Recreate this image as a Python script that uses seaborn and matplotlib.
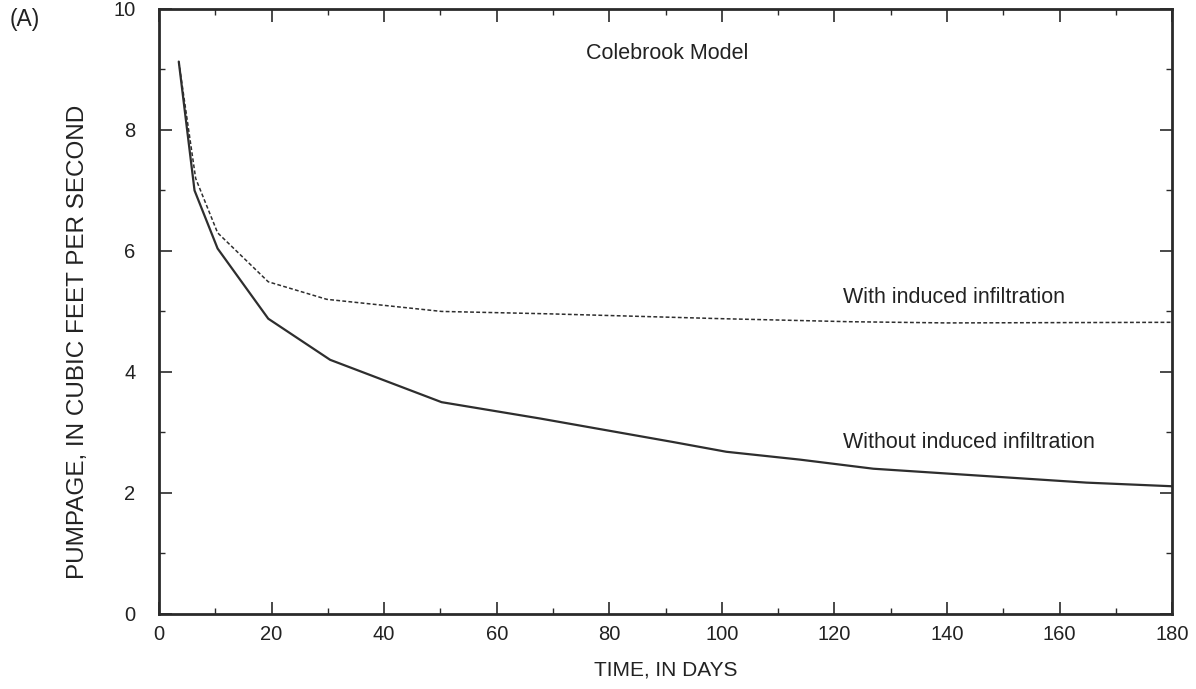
import matplotlib
matplotlib.use("Agg")
import matplotlib.pyplot as plt
import seaborn as sns
import pandas as pd
from matplotlib.ticker import MultipleLocator

# Data
days_without = [3.5, 6.3, 10.4, 19.4, 30.4, 50.2, 67.7, 91.4, 100.8, 113.9, 126.9, 141.7, 164.8, 180]
pump_without = [9.13, 7.0, 6.04, 4.88, 4.2, 3.5, 3.23, 2.84, 2.68, 2.55, 2.40, 2.31, 2.17, 2.11]
days_with = [3.5, 6.5, 10.4, 19.4, 29.8, 50.2, 69.4, 100.0, 122.7, 140.0, 180]
pump_with = [9.13, 7.2, 6.3, 5.49, 5.2, 5.0, 4.96, 4.88, 4.83, 4.81, 4.82]

x_ticks = [0, 20, 40, 60, 80, 100, 120, 140, 160, 180]
y_ticks = [0, 2, 4, 6, 8, 10]

sns.set_style("ticks")
plt.rcParams['font.family'] = ['Liberation Sans', 'DejaVu Sans']

fig = plt.figure(figsize=(11.96, 6.89), dpi=100)
ax = fig.add_axes([0.133, 0.109, 0.847, 0.878])

df_wo = pd.DataFrame({"day": days_without, "q": pump_without})
df_w = pd.DataFrame({"day": days_with, "q": pump_with})
line_col = "#2e2e2e"
sns.lineplot(data=df_wo, x="day", y="q", ax=ax, color=line_col, linewidth=1.6)
sns.lineplot(data=df_w, x="day", y="q", ax=ax, color=line_col, linewidth=1.1,
             linestyle=(0, (2.5, 1.5)))

ax.set_xlim(0, 180)
ax.set_ylim(0, 10)
ax.set_xticks(x_ticks)
ax.set_yticks(y_ticks)
ax.xaxis.set_minor_locator(MultipleLocator(10))
ax.yaxis.set_minor_locator(MultipleLocator(1))
ax.tick_params(which='both', direction='in', top=True, right=True, colors='#2a2a2a',
               labelsize=14.5, labelcolor='#222222')
ax.tick_params(which='major', length=9, width=1.2)
ax.tick_params(axis='x', which='major', pad=8)
ax.tick_params(axis='y', which='major', pad=17)
ax.tick_params(which='minor', length=4.5, width=1.0)
for s in ax.spines.values():
    s.set_linewidth(2.0)
    s.set_color('#2a2a2a')

ax.set_xlabel("TIME, IN DAYS", fontsize=15, color='#222222')
ax.set_ylabel("PUMPAGE, IN CUBIC FEET PER SECOND", fontsize=17.5, color='#222222')
ax.xaxis.set_label_coords(0.5, -0.077)
ax.yaxis.set_label_coords(-0.069, 0.45)

ax.text(90.2, 9.27, "Colebrook Model", fontsize=15.5, ha='center', va='center', color='#222222')
ax.text(121.5, 5.05, "With induced infiltration", fontsize=15.5, ha='left', va='bottom', color='#222222')
ax.text(121.5, 2.83, "Without induced infiltration", fontsize=15.5, ha='left', va='center', color='#222222')
fig.text(0.008, 0.972, "(A)", fontsize=16.5, ha='left', va='center', color='#222222')

fig.savefig("out.png", dpi=100)
